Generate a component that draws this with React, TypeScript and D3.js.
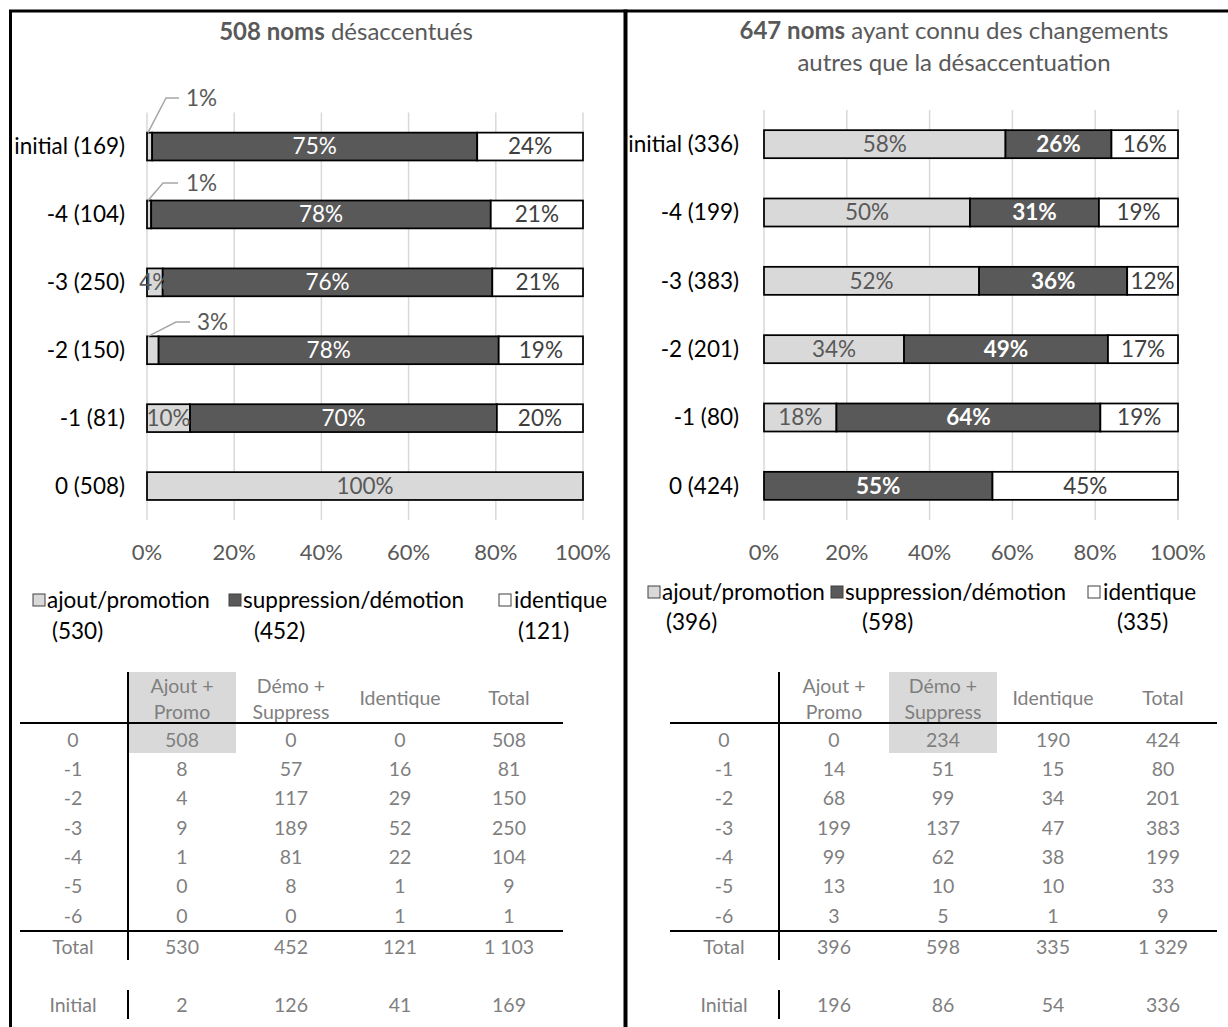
import * as React from 'react';
import * as d3 from 'd3';

const FONT = "Lato, 'Liberation Sans', sans-serif";

// table rows (change level) and columns
const levels = ['0', '-1', '-2', '-3', '-4', '-5', '-6'];
const barLevels = ['initial', '-4', '-3', '-2', '-1', '0'];
const seriesKeys = ['ajout', 'demo', 'ident'];
const seriesNames = ['ajout/promotion', 'suppression/démotion', 'identique'];
const tableHeaders = [['Ajout +', 'Promo'], ['Démo +', 'Suppress'], ['Identique'], ['Total']];
const tickValues = [0, 0.2, 0.4, 0.6, 0.8, 1];

// 508 noms désaccentués
const leftAjout = [508, 8, 4, 9, 1, 0, 0];
const leftDemo = [0, 57, 117, 189, 81, 8, 0];
const leftIdent = [0, 16, 29, 52, 22, 1, 1];
const leftInitial = [2, 126, 41];

// 647 noms ayant connu des changements autres que la désaccentuation
const rightAjout = [0, 14, 68, 199, 99, 13, 3];
const rightDemo = [234, 51, 99, 137, 62, 10, 5];
const rightIdent = [190, 15, 34, 47, 38, 10, 1];
const rightInitial = [196, 86, 54];

const fills = ['#d9d9d9', '#595959', '#ffffff'];
const labelColors = ['#595959', '#ffffff', '#404040'];

const fmtInt = d3.formatLocale({ decimal: ',', thousands: '\u00a0', grouping: [3], currency: ['', ''] }).format(',d');

interface Row { level: string, ajout: number, demo: number, ident: number }

function buildRows(a: number[], d: number[], i: number[], init: number[]): Row[] {
    const rows: Row[] = levels.map((l, k) => ({ level: l, ajout: a[k], demo: d[k], ident: i[k] }));
    rows.push({ level: 'initial', ajout: init[0], demo: init[1], ident: init[2] });
    return rows;
}

const leftLayout = {
    title: [[{ t: '508 noms', b: true }, { t: ' désaccentués', b: false }]],
    titleX: 346, titleY: [32],
    x0: 147, x1: 583, y0: 112.6, y1: 520, labelX: 125, tickY: 552,
    darkBold: false,
    callouts: [
        { level: 'initial', ex: 166, ey: 98, hx: 179, tx: 186 },
        { level: '-4', ex: 163, ey: 183, hx: 178, tx: 186 },
        { level: '-2', ex: 176, ey: 322, hx: 190, tx: 197 },
    ],
    legendY: 600, legend2Y: 631,
    legend: [{ m: 33, t: 47, t2: 52 }, { m: 229, t: 243, t2: 254 }, { m: 499, t: 514, t2: 518 }],
    table: { vx: 128, lx0: 20, lx1: 563, cols: [73, 182, 291, 400, 509], shade: 1 },
};

const rightLayout = {
    title: [[{ t: '647 noms', b: true }, { t: ' ayant connu des changements', b: false }],
    [{ t: 'autres que la désaccentuation', b: false }]],
    titleX: 954, titleY: [31, 63],
    x0: 764, x1: 1178, y0: 110, y1: 520, labelX: 739, tickY: 552,
    darkBold: true,
    callouts: [] as any[],
    legendY: 592, legend2Y: 622,
    legend: [{ m: 648, t: 662, t2: 666 }, { m: 831, t: 845, t2: 862 }, { m: 1088, t: 1103, t2: 1117 }],
    table: { vx: 779, lx0: 670, lx1: 1217, cols: [724, 834, 943, 1053, 1163], shade: 2 },
};

function Panel({ rows, L }: { rows: Row[], L: any }) {
    const byLevel = new Map(rows.map(r => [r.level, r]));
    const barRows = barLevels.map(l => byLevel.get(l) as Row);
    const total = (r: Row) => r.ajout + r.demo + r.ident;
    const cat = (r: Row) => `${r.level} (${total(r)})`;

    const x = d3.scaleLinear().domain([0, 1]).range([L.x0, L.x1]);
    const y = d3.scaleBand<string>().domain(barLevels).range([L.y0, L.y1]).paddingInner(0.59).paddingOuter(0.295);
    const stacked = d3.stack<Row>().keys(seriesKeys).offset(d3.stackOffsetExpand)(barRows as any);
    const calloutLevels = new Set(L.callouts.map((c: any) => c.level));

    const colTotals = seriesKeys.map(k => d3.sum(rows.filter(r => r.level !== 'initial'), (r: any) => r[k]));
    const grand = d3.sum(colTotals);
    const initRow = byLevel.get('initial') as Row;

    const tRow = d3.scalePoint<string>().domain(levels).range([740, 916]);
    const T = L.table;
    const tc = '#7f7f7f';
    const tfs = 19.5;

    return <g>
        {L.title.map((line: any[], i: number) =>
            <text key={i} x={L.titleX} y={L.titleY[i]} dy="0.35em" textAnchor="middle" fontSize={24} fill="#595959" fontFamily={FONT}>
                {line.map((s, j) => <tspan key={j} fontWeight={s.b ? 'bold' : 'normal'}>{s.t}</tspan>)}
            </text>)}

        {tickValues.map(v => <line key={v} x1={x(v)} x2={x(v)} y1={L.y0} y2={L.y1} stroke="#d9d9d9" strokeWidth={1.5} />)}

        {stacked.map((s, si) => s.map((seg, ri) => {
            const lvl = barLevels[ri];
            const w = x(seg[1]) - x(seg[0]);
            if (seg[1] - seg[0] <= 0) return null;
            return <rect key={si + '-' + ri} x={x(seg[0])} y={y(lvl)} width={w} height={y.bandwidth()}
                fill={fills[si]} stroke="#000" strokeWidth={1.75} />;
        }))}

        {stacked.map((s, si) => s.map((seg, ri) => {
            const lvl = barLevels[ri];
            const p = seg[1] - seg[0];
            if (p <= 0) return null;
            if (si === 0 && calloutLevels.has(lvl)) return null;
            const cx = (x(seg[0]) + x(seg[1])) / 2;
            const cy = (y(lvl) as number) + y.bandwidth() / 2;
            return <text key={'l' + si + '-' + ri} x={cx} y={cy} dy="0.35em" textAnchor="middle" fontSize={22.5}
                fontFamily={FONT} fill={labelColors[si]} fontWeight={si === 1 && L.darkBold ? 'bold' : 'normal'}>
                {Math.round(p * 100) + '%'}
            </text>;
        }))}

        {L.callouts.map((c: any) => {
            const ri = barLevels.indexOf(c.level);
            const seg = stacked[0][ri];
            const top = y(c.level) as number;
            return <g key={c.level}>
                <polyline points={`${x(0) + 1},${top} ${c.ex},${c.ey} ${c.hx},${c.ey}`} fill="none" stroke="#a6a6a6" strokeWidth={1.5} />
                <text x={c.tx} y={c.ey} dy="0.35em" fontSize={22.5} fontFamily={FONT} fill="#595959">
                    {Math.round((seg[1] - seg[0]) * 100) + '%'}
                </text>
            </g>;
        })}

        {barRows.map(r => <text key={r.level} x={L.labelX} y={(y(r.level) as number) + y.bandwidth() / 2} dy="0.35em"
            textAnchor="end" fontSize={22.5} fontFamily={FONT} fill="#000">{cat(r)}</text>)}

        {tickValues.map(v => <text key={'t' + v} x={x(v)} y={L.tickY} dy="0.35em" textAnchor="middle" fontSize={22}
            fontFamily={FONT} fill="#595959">{Math.round(v * 100) + '%'}</text>)}

        {seriesNames.map((n, i) => <g key={n}>
            <rect x={L.legend[i].m} y={L.legendY - 6} width={12} height={12} fill={fills[i]} stroke="#404040" strokeWidth={1} />
            <text x={L.legend[i].t} y={L.legendY} dy="0.35em" fontSize={22.5} fontFamily={FONT} fill="#000">{n}</text>
            <text x={L.legend[i].t2} y={L.legend2Y} dy="0.35em" fontSize={22.5} fontFamily={FONT} fill="#000">({colTotals[i]})</text>
        </g>)}

        {/* table */}
        <rect x={T.cols[T.shade] - 54} y={672} width={108} height={81} fill="#d9d9d9" />
        {tableHeaders.map((h, i) => h.map((line, j) =>
            <text key={i + '-' + j} x={T.cols[i + 1]} y={h.length === 1 ? 698 : 686 + j * 26} dy="0.35em" textAnchor="middle"
                fontSize={tfs} fontFamily={FONT} fill={tc}>{line}</text>))}
        <line x1={T.lx0} x2={T.lx1} y1={723} y2={723} stroke="#000" strokeWidth={2} />
        <line x1={T.lx0} x2={T.lx1} y1={931} y2={931} stroke="#000" strokeWidth={2} />
        <line x1={T.vx} x2={T.vx} y1={672} y2={960} stroke="#000" strokeWidth={2} />
        <line x1={T.vx} x2={T.vx} y1={990} y2={1019} stroke="#000" strokeWidth={2} />
        {levels.map(l => {
            const r = byLevel.get(l) as Row;
            const vals = [l, r.ajout, r.demo, r.ident, total(r)];
            return vals.map((v, i) => <text key={l + i} x={T.cols[i]} y={tRow(l)} dy="0.35em" textAnchor="middle"
                fontSize={tfs} fontFamily={FONT} fill={tc}>{String(v)}</text>);
        })}
        {['Total', ...colTotals.map(fmtInt), fmtInt(grand)].map((v, i) =>
            <text key={'tot' + i} x={T.cols[i]} y={947} dy="0.35em" textAnchor="middle" fontSize={tfs} fontFamily={FONT} fill={tc}>{v}</text>)}
        {['Initial', initRow.ajout, initRow.demo, initRow.ident, total(initRow)].map((v, i) =>
            <text key={'ini' + i} x={T.cols[i]} y={1005} dy="0.35em" textAnchor="middle" fontSize={tfs} fontFamily={FONT} fill={tc}>{String(v)}</text>)}
    </g>;
}

export default function App() {
    const leftRows = buildRows(leftAjout, leftDemo, leftIdent, leftInitial);
    const rightRows = buildRows(rightAjout, rightDemo, rightIdent, rightInitial);
    return <svg width={1228} height={1027} style={{ position: 'absolute', left: 0, top: 0, background: '#fff' }}>
        <rect x={0} y={0} width={1228} height={1027} fill="#fff" />
        <path d="M1228,11 H10.5 V1027" fill="none" stroke="#000" strokeWidth={3} />
        <line x1={625.5} x2={625.5} y1={9.5} y2={1027} stroke="#000" strokeWidth={4} />
        <Panel rows={leftRows} L={leftLayout} />
        <Panel rows={rightRows} L={rightLayout} />
    </svg>;
}
